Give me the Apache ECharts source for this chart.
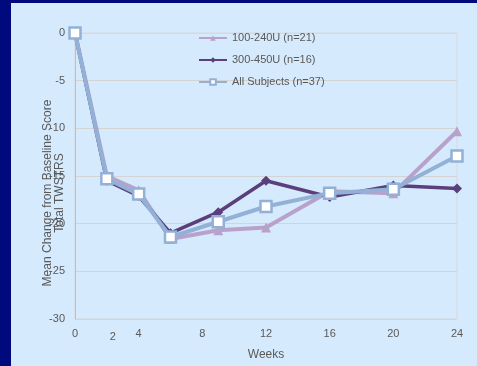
<!DOCTYPE html>
<html>
<head>
<meta charset="utf-8">
<script src="https://cdn.jsdelivr.net/npm/echarts@6/dist/echarts.min.js"></script>
<style>
  html, body { margin: 0; padding: 0; background: #000a7c; }
  #main { width: 477px; height: 366px; }
</style>
</head>
<body>
<div id="main"></div>
<script>
// weeks where visits happened
var weeks = [0, 2, 4, 6, 9, 12, 16, 20, 24];
var tickWeeks = [0, 2, 4, 8, 12, 16, 20, 24];

var seriesNames = ['100-240U (n=21)', '300-450U (n=16)', 'All Subjects (n=37)'];
var lowDose = [0, -15.0, -16.5, -21.6, -20.7, -20.4, -16.6, -16.8, -10.3];
var highDose = [0, -15.5, -17.1, -21.0, -18.8, -15.5, -17.2, -16.0, -16.3];
var allSubjects = [0, -15.3, -16.9, -21.4, -19.8, -18.2, -16.8, -16.4, -12.9];

function pairs(vals) {
  return weeks.map(function (w, i) { return [w, vals[i]]; });
}

var myChart = echarts.init(document.getElementById('main'));

var option = {
  backgroundColor: '#000a7c',
  animation: false,
  textStyle: { fontFamily: 'Liberation Sans, Arial, sans-serif' },
  graphic: [
    {
      type: 'rect', z: -10,
      shape: { x: 11, y: 3, width: 466, height: 363 },
      style: { fill: '#d5eafd' }
    },
    {
      type: 'text', x: 48, y: 193, rotation: Math.PI / 2,
      style: {
        text: 'Mean Change from Baseline Score', fill: '#595959',
        font: '12px Liberation Sans, Arial, sans-serif',
        align: 'center', verticalAlign: 'middle'
      }
    },
    {
      type: 'text', x: 60, y: 193, rotation: Math.PI / 2,
      style: {
        text: 'Total TWSTRS', fill: '#595959',
        font: '12px Liberation Sans, Arial, sans-serif',
        align: 'center', verticalAlign: 'middle'
      }
    }
  ],
  grid: {
    left: 75, right: 20, top: 33, bottom: 46,
    show: true, borderColor: '#d9d9d9', borderWidth: 1
  },
  legend: {
    orient: 'vertical',
    left: 193, top: 27.5,
    itemWidth: 28, itemHeight: 7, itemGap: 11,
    textStyle: { color: '#595959', fontSize: 11 },
    data: seriesNames
  },
  xAxis: {
    type: 'value', min: 0, max: 24, interval: 2,
    name: 'Weeks', nameLocation: 'middle', nameGap: 30,
    nameTextStyle: { color: '#595959', fontSize: 12 },
    axisLine: { show: true, lineStyle: { color: '#d9d9d9' } },
    axisTick: { show: false },
    splitLine: { show: false },
    axisLabel: {
      color: '#595959', fontSize: 11, margin: 9,
      formatter: function (v) {
        if (tickWeeks.indexOf(v) < 0) return '';
        if (v === 2) return '{s|2}';
        return String(v);
      },
      rich: { s: { padding: [3, 0, 0, 12], color: '#595959', fontSize: 11 } }
    }
  },
  yAxis: {
    type: 'value', min: -30, max: 0, interval: 5,
    axisLine: { show: true, lineStyle: { color: '#bfbfbf' } },
    axisTick: { show: false },
    splitLine: { lineStyle: { color: '#d4d4d4' } },
    axisLabel: { color: '#595959', fontSize: 11, margin: 10 }
  },
  series: [
    {
      name: seriesNames[0], type: 'line', data: pairs(lowDose),
      color: '#b8a1ca',
      symbol: 'triangle', symbolSize: 10,
      lineStyle: { width: 4, color: '#b8a1ca' },
      itemStyle: { color: '#b8a1ca' },
      z: 2
    },
    {
      name: seriesNames[1], type: 'line', data: pairs(highDose),
      color: '#5b3f7b',
      symbol: 'diamond', symbolSize: 10,
      lineStyle: { width: 3.5, color: '#5b3f7b' },
      itemStyle: { color: '#5b3f7b' },
      z: 3
    },
    {
      name: seriesNames[2], type: 'line', data: pairs(allSubjects),
      color: '#93b1d6',
      symbol: 'rect', symbolSize: 11, showAllSymbol: true,
      lineStyle: { width: 4, color: '#93b1d6' },
      itemStyle: { color: '#ffffff', borderColor: '#93b1d6', borderWidth: 2.5 },
      z: 4
    }
  ]
};

myChart.setOption(option);
window.addEventListener('resize', myChart.resize);
</script>
</body>
</html>
